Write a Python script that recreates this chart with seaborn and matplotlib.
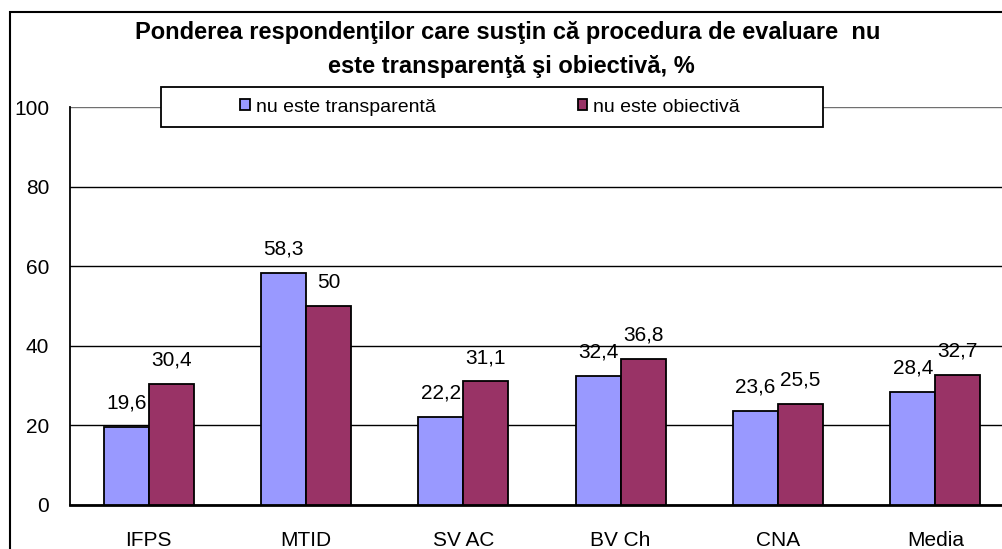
import pandas as pd
import matplotlib
matplotlib.use("Agg")
import matplotlib.pyplot as plt
from matplotlib.patches import Rectangle
import seaborn as sns

# data
categories = ["IFPS", "MTID", "SV AC", "BV Ch", "CNA", "Media"]
transparenta = [19.6, 58.3, 22.2, 32.4, 23.6, 28.4]
obiectiva = [30.4, 50, 31.1, 36.8, 25.5, 32.7]
series_names = ["nu este transparentă", "nu este obiectivă"]
title_lines = ["Ponderea respondenţilor care susţin că procedura de evaluare  nu",
               "este transparenţă şi obiectivă, %"]
yticks = [0, 20, 40, 60, 80, 100]

df = pd.DataFrame({
    "cat": categories * 2,
    "val": transparenta + obiectiva,
    "serie": [series_names[0]] * len(categories) + [series_names[1]] * len(categories),
})

sns.set_style("white")
plt.rcParams["font.family"] = ["Liberation Sans", "DejaVu Sans"]
plt.rcParams["text.color"] = "black"
plt.rcParams["xtick.color"] = "black"
plt.rcParams["ytick.color"] = "black"

W, H = 1003, 549
fig = plt.figure(figsize=(W / 100, H / 100), dpi=100)
ax = fig.add_axes([70 / W, 44 / H, 944 / W, 398 / H])

sns.barplot(data=df, x="cat", y="val", hue="serie", order=categories,
            hue_order=series_names, palette=["#9999FF", "#993366"], saturation=1,
            width=0.572, gap=0, edgecolor="black", linewidth=1.3,
            ax=ax, legend=True, zorder=3)

# labels above bars
for cont in ax.containers:
    for bar in cont:
        v = bar.get_height()
        txt = f"{v:g}".replace(".", ",")
        ax.annotate(txt, (bar.get_x() + bar.get_width() / 2, v),
                    xytext=(0, 17), textcoords="offset points",
                    ha="center", va="center", fontsize=15, zorder=5)

ax.set_xlim(-0.5, len(categories) - 0.5)
ax.set_ylim(0, 100)
ax.set_yticks(yticks)
ax.set_xlabel("")
ax.set_ylabel("")

# category boundaries as ticks, labels in the middle
ax.set_xticks([i - 0.5 for i in range(len(categories) + 1)])
ax.set_xticklabels([])
ax.set_xticks(range(len(categories)), minor=True)
ax.set_xticklabels(categories, minor=True, fontsize=15)
ax.tick_params(axis="x", which="major", length=7, width=1.3, color="black", direction="out")
ax.tick_params(axis="x", which="minor", length=0, pad=19)
ax.tick_params(axis="y", length=7, width=1.3, color="black", direction="out",
               labelsize=15, pad=8)

ax.yaxis.grid(True, color="black", linewidth=1.0)
ax.xaxis.grid(False)
ax.set_axisbelow(True)
ax.yaxis.get_gridlines()[-1].set_color("#707070")

ax.spines["left"].set_color("black")
ax.spines["left"].set_linewidth(1.3)
ax.spines["bottom"].set_color("black")
ax.spines["bottom"].set_linewidth(2)
ax.spines["top"].set_visible(False)
ax.spines["right"].set_visible(False)

# legend box
handles, labels = ax.get_legend_handles_labels()
ax.get_legend().remove()
fig.patches.append(Rectangle((161 / W, 1 - 127 / H), 662 / W, 40 / H,
                             transform=fig.transFigure, facecolor="white",
                             edgecolor="black", linewidth=1.3, zorder=4))
leg = fig.legend(handles, labels, loc="center", ncol=2, frameon=False,
                 bbox_to_anchor=(490 / W, 1 - 107 / H), bbox_transform=fig.transFigure,
                 fontsize=14, handlelength=0.5, handleheight=0.5, handletextpad=0.3,
                 columnspacing=7.3)
leg.set_zorder(6)

# title
fig.text(508 / W, 1 - 33 / H, title_lines[0], ha="center", va="center",
         fontsize=17, fontweight="bold")
fig.text(511 / W, 1 - 66 / H, title_lines[1], ha="center", va="center",
         fontsize=17, fontweight="bold")

# outer chart border
fig.patches.append(Rectangle((10 / W, -0.2), 1.5, 1 - 12 / H + 0.2,
                             transform=fig.transFigure, facecolor="none",
                             edgecolor="black", linewidth=1.5, zorder=0))

fig.savefig("out.png", dpi=100, facecolor="white")
